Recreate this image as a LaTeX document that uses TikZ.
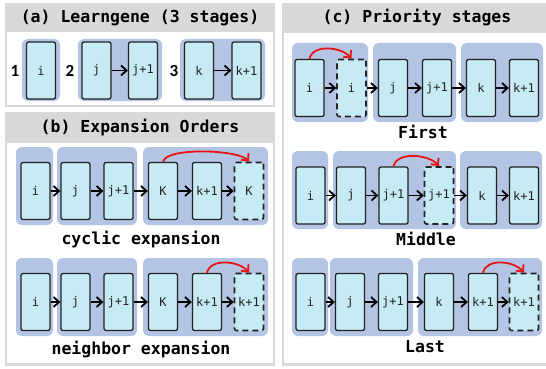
\documentclass[tikz,border=0pt]{standalone}
\usepackage{fontspec}
\usetikzlibrary{arrows.meta}
\newfontfamily\monofam{DejaVu Sans Mono}
\newfontfamily\numfam{Carlito}
\definecolor{boxc}{HTML}{C6EBF5}
\definecolor{bgc}{HTML}{B4C4E4}
\definecolor{panelc}{HTML}{D9D9D9}
\definecolor{redc}{HTML}{E81414}
\definecolor{edgec}{HTML}{222222}
\tikzset{
 blk/.style={draw=edgec, line width=1.3pt, fill=boxc, rounded corners=2pt, minimum width=29pt, minimum height=57pt, inner sep=0pt, font=\monofam\fontsize{12}{12}\selectfont, text=edgec},
 dblk/.style={blk, dash pattern=on 6pt off 4pt, line width=1.6pt},
 bgarea/.style={fill=bgc, rounded corners=6pt},
 flow/.style={-{Straight Barb[length=5.5pt,width=10pt]}, line width=1.8pt, black},
 jump/.style={-{Straight Barb[length=5.5pt,width=10pt]}, line width=1.8pt, redc},
 ttl/.style={font=\monofam\bfseries\fontsize{16.5}{16.5}\selectfont, text=black, inner sep=0pt},
 num/.style={font=\numfam\bfseries\fontsize{17}{17}\selectfont, inner sep=0pt},
}
\begin{document}
\begin{tikzpicture}[x=1pt,y=-1pt]
\useasboundingbox (0,0) rectangle (546,369);
% panels
\fill[panelc] (5,3) rectangle (275,107);
\fill[white] (7,32) rectangle (273,105);
\fill[panelc] (5,112) rectangle (275,366);
\fill[white] (7,143) rectangle (273,363);
\fill[panelc] (282,3) rectangle (546,366);
\fill[white] (284,33) rectangle (546,363);
\node[ttl] (ta) at (140,17.5) {(a) Learngene (3 stages)};
\node[ttl] (tb) at (140,128) {(b) Expansion Orders};
\node[ttl] (tc) at (417,17.5) {(c) Priority stages};

% ---------- (a)
\fill[bgarea] (22,39) rectangle (60,101);
\fill[bgarea] (78,39) rectangle (162,101);
\fill[bgarea] (180,39) rectangle (265,101);
\node[num] (n1) at (15,71) {1};
\node[num] (n2) at (70,71) {2};
\node[num] (n3) at (174,71) {3};
\node[blk] (ai) at (41,70.5) {i};
\node[blk] (aj) at (96.5,70.5) {j};
\node[blk] (aj1) at (143,70.5) {j+1};
\node[blk] (ak) at (199,70.5) {k};
\node[blk] (ak1) at (246.5,70.5) {k+1};
\draw[flow] (aj) -- (aj1);
\draw[flow] (ak) -- (ak1);

% ---------- (b) cyclic
\fill[bgarea] (16,147) rectangle (53,225);
\fill[bgarea] (57,147) rectangle (137,225);
\fill[bgarea] (143,147) rectangle (268,225);
\node[blk] (ci) at (35.5,191) {i};
\node[blk] (cj) at (75.5,191) {j};
\node[blk] (cj1) at (118.5,191) {j+1};
\node[blk] (cK) at (163,191) {K};
\node[blk] (ck1) at (207,191) {k+1};
\node[dblk] (cKd) at (249,191) {K};
\draw[flow] (ci) -- (cj);
\draw[flow] (cj) -- (cj1);
\draw[flow] (cj1) -- (cK);
\draw[flow] (cK) -- (ck1);
\draw[flow] (ck1) -- (cKd);
\draw[jump] (cK.north) .. controls +(3,-15) and +(-10,-12) .. (cKd.north);
\node[ttl] (lc) at (141,239.5) {cyclic expansion};

% ---------- (b) neighbor
\fill[bgarea] (16,258) rectangle (53,336);
\fill[bgarea] (57,258) rectangle (137,336);
\fill[bgarea] (143,258) rectangle (268,336);
\node[blk] (ni) at (35.5,302) {i};
\node[blk] (nj) at (75.5,302) {j};
\node[blk] (nj1) at (118.5,302) {j+1};
\node[blk] (nK) at (163,302) {K};
\node[blk] (nk1) at (207,302) {k+1};
\node[dblk] (nk1d) at (249,302) {k+1};
\draw[flow] (ni) -- (nj);
\draw[flow] (nj) -- (nj1);
\draw[flow] (nj1) -- (nK);
\draw[flow] (nK) -- (nk1);
\draw[flow] (nk1) -- (nk1d);
\draw[jump] (nk1.north) .. controls +(3,-15) and +(-10,-12) .. (nk1d.north);
\node[ttl] (ln) at (141,350) {neighbor expansion};

% ---------- (c) First
\fill[bgarea] (292,43) rectangle (368,122);
\fill[bgarea] (373,43) rectangle (456,122);
\fill[bgarea] (461,43) rectangle (543,122);
\node[blk] (fi) at (309.5,88) {i};
\node[dblk] (fid) at (351.5,88) {i};
\node[blk] (fj) at (393,88) {j};
\node[blk] (fj1) at (437,88) {j+1};
\node[blk] (fk) at (481,88) {k};
\node[blk] (fk1) at (524,88) {k+1};
\draw[flow] (fi) -- (fid);
\draw[flow] (fid) -- (fj);
\draw[flow] (fj) -- (fj1);
\draw[flow] (fj1) -- (fk);
\draw[flow] (fk) -- (fk1);
\draw[jump] (fi.north) .. controls +(3,-15) and +(-10,-12) .. (fid.north);
\node[ttl] (lf) at (423,131.5) {First};

% ---------- (c) Middle
\fill[bgarea] (292,151) rectangle (328,229);
\fill[bgarea] (333,151) rectangle (456,229);
\fill[bgarea] (460,151) rectangle (542,229);
\node[blk] (mi) at (310.5,195.5) {i};
\node[blk] (mj) at (351,195.5) {j};
\node[blk] (mj1) at (393.5,195.5) {j+1};
\node[dblk] (mj1d) at (439,195.5) {j+1};
\node[blk] (mk) at (482,195.5) {k};
\node[blk] (mk1) at (524,195.5) {k+1};
\draw[flow] (mi) -- (mj);
\draw[flow] (mj) -- (mj1);
\draw[flow] (mj1) -- (mj1d);
\draw[flow] (mj1d) -- (mk);
\draw[flow] (mk) -- (mk1);
\draw[jump] (mj1.north) .. controls +(3,-15) and +(-10,-12) .. (mj1d.north);
\node[ttl] (lm) at (426,238.5) {Middle};

% ---------- (c) Last
\fill[bgarea] (292,258) rectangle (328,336);
\fill[bgarea] (330,258) rectangle (413,336);
\fill[bgarea] (418,258) rectangle (542,336);
\node[blk] (li) at (310.5,302) {i};
\node[blk] (lj) at (350,302) {j};
\node[blk] (lj1) at (393,302) {j+1};
\node[blk] (lk) at (439,302) {k};
\node[blk] (lk1) at (483,302) {k+1};
\node[dblk] (lk1d) at (524,302) {k+1};
\draw[flow] (li) -- (lj);
\draw[flow] (lj) -- (lj1);
\draw[flow] (lj1) -- (lk);
\draw[flow] (lk) -- (lk1);
\draw[flow] (lk1) -- (lk1d);
\draw[jump] (lk1.north) .. controls +(3,-15) and +(-10,-12) .. (lk1d.north);
\node[ttl] (ll) at (425,346.5) {Last};
\end{tikzpicture}
\end{document}
